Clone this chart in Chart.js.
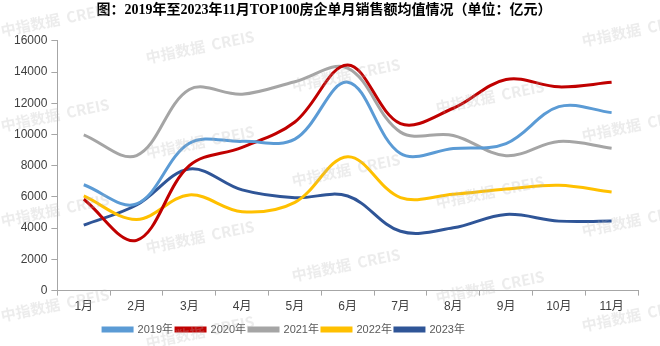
<!DOCTYPE html>
<html><head><meta charset="utf-8">
<script src="https://cdn.jsdelivr.net/npm/chart.js@4/dist/chart.umd.min.js"></script>
<style>html,body{margin:0;padding:0;background:#fff}#wrap{width:660px;height:346px;position:relative}</style>
</head><body><div id="wrap"><canvas id="c" width="660" height="346"></canvas></div>
<script>
const categories = ['1月','2月','3月','4月','5月','6月','7月','8月','9月','10月','11月'];
const seriesNames = ['2019年','2020年','2021年','2022年','2023年'];
const v2019 = [6780, 5550, 9440, 9560, 9700, 13350, 8780, 9100, 9420, 11780, 11400];
const v2020 = [5850, 3220, 8000, 9180, 10800, 14450, 10700, 11680, 13520, 13050, 13340];
const v2021 = [9980, 8650, 12880, 12580, 13380, 14250, 10150, 9940, 8640, 9550, 9120];
const v2022 = [6060, 4560, 6130, 5050, 5650, 8580, 5960, 6170, 6500, 6750, 6320];
const v2023 = [4190, 5480, 7790, 6450, 5950, 6060, 3800, 4020, 4880, 4450, 4450];
const yTicks = [0,2000,4000,6000,8000,10000,12000,14000,16000];
const colors = ['#5B9BD5','#C00000','#A5A5A5','#FFC000','#2F5597'];
const allValues = [v2019, v2020, v2021, v2022, v2023];

const watermark = {
  id:'wm',
  afterDraw(chart){
    const ctx = chart.ctx;
    const pts = [[55,20],[55,115],[55,210],[55,305],[200,47],[200,142],[200,237],[200,332],
                 [346,75],[346,170],[346,265],[490,97],[490,192],[490,287],[636,30],[636,125],[636,220],[636,315]];
    ctx.save();
    ctx.fillStyle = 'rgba(180,180,180,0.25)';
    ctx.font = 'bold 15px "Noto Sans CJK SC", sans-serif';
    ctx.textAlign = 'center'; ctx.textBaseline = 'middle';
    pts.forEach(p=>{ctx.save();ctx.translate(p[0],p[1]);ctx.rotate(-0.2);ctx.fillText('中指数据  CREIS',0,0);ctx.restore();});
    ctx.restore();
  }
};
const legendShift = {
  id:'legendShift',
  afterLayout(chart){ const l = chart.legend; if(l){ l.left -= 40; l.right -= 40; l.top += 3; l.bottom += 3; } }
};

new Chart(document.getElementById('c'), {
  type:'line',
  data:{ labels:categories, datasets: allValues.map((d,i)=>({
    label:seriesNames[i], data:d, borderColor:colors[i], backgroundColor:colors[i],
    borderWidth:3, pointRadius:0, tension:0.36, fill:false }))},
  options:{
    responsive:false, animation:false, devicePixelRatio:1,
    layout:{padding:{left:10,right:22,top:0,bottom:4}},
    plugins:{
      title:{display:true, text:'图：2019年至2023年11月TOP100房企单月销售额均值情况（单位：亿元）',
        color:'#000', font:{family:'"Liberation Serif","Noto Sans CJK SC",serif', size:14, weight:'bold'},
        padding:{top:2,bottom:22}},
      legend:{position:'bottom', labels:{boxWidth:29, boxHeight:3, padding:3, color:'#595959',
        font:{family:'"Liberation Sans","Noto Sans CJK SC",sans-serif', size:11}}},
      tooltip:{enabled:false}
    },
    scales:{
      x:{offset:true, grid:{offset:true, drawOnChartArea:false, tickLength:5, color:'#A6A6A6'},
         border:{color:'#A6A6A6'},
         ticks:{color:'#404040', padding:4, font:{family:'"Liberation Sans","Noto Sans CJK SC",sans-serif', size:12}}},
      y:{min:0, max:16000, afterBuildTicks(ax){ ax.ticks = yTicks.map(v=>({value:v})); },
         grid:{drawOnChartArea:false, tickLength:6, color:'#A6A6A6'}, border:{color:'#A6A6A6'},
         ticks:{color:'#404040', padding:4, callback:(v)=>String(v),
           font:{family:'"Liberation Sans",sans-serif', size:12}}}
    }
  },
  plugins:[watermark, legendShift]
});
</script></body></html>
